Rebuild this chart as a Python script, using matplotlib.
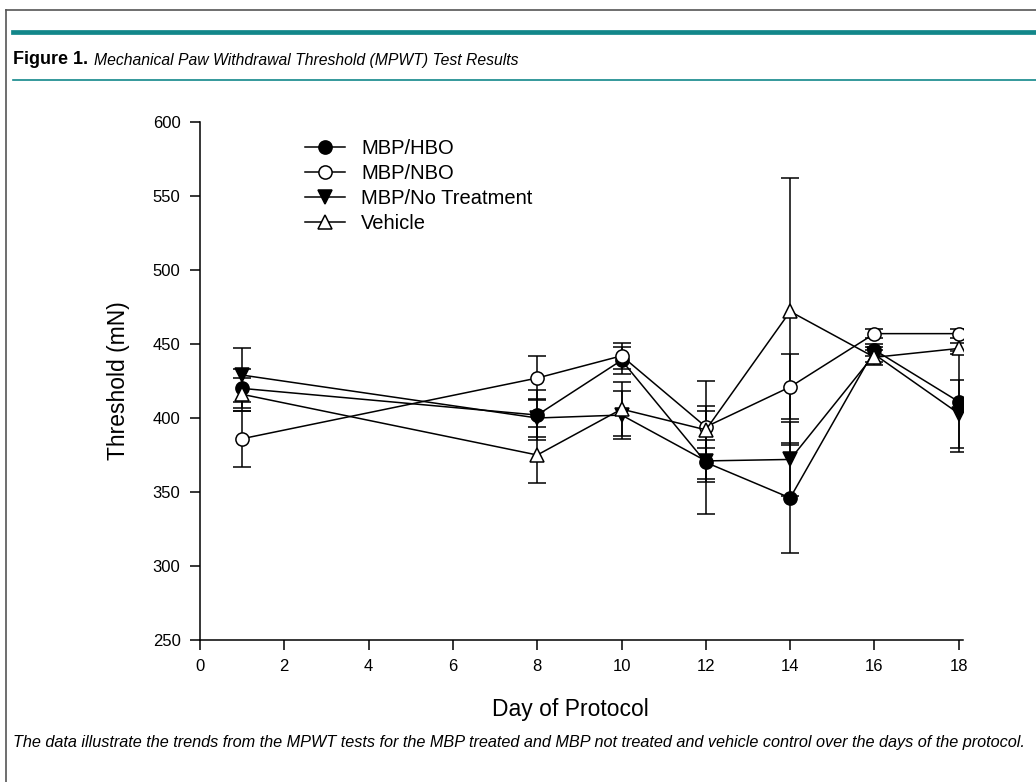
import matplotlib
matplotlib.use("Agg")
import matplotlib.pyplot as plt
from matplotlib.lines import Line2D

# values
days = [1, 8, 10, 12, 14, 16, 18]
hbo = [420, 402, 439, 370, 346, 446, 411]
hbo_err = [13, 17, 9, 35, 37, 4, 34]
nbo = [386, 427, 442, 394, 421, 457, 457]
nbo_err = [19, 15, 9, 14, 22, 3, 3]
notreat = [429, 400, 402, 371, 372, 443, 403]
notreat_err = [18, 13, 16, 14, 25, 5, 23]
vehicle = [416, 375, 406, 392, 472, 441, 447]
vehicle_err = [11, 19, 18, 33, 90, 5, 4]

x_ticks = [0, 2, 4, 6, 8, 10, 12, 14, 16, 18]
y_ticks = [250, 300, 350, 400, 450, 500, 550, 600]

teal = '#12878a'

plt.rcParams['font.family'] = ['Liberation Sans', 'DejaVu Sans']

fig = plt.figure(figsize=(10.36, 7.82), dpi=100)
W, H = 1036.0, 782.0

# frame and header rules
fig.add_artist(Line2D([6 / W, 6 / W], [0, 1 - 10 / H], color='#555555', lw=1.2))
fig.add_artist(Line2D([6 / W, 1], [1 - 10 / H, 1 - 10 / H], color='#555555', lw=1.2))
fig.add_artist(Line2D([13 / W, 1], [1 - 31.5 / H, 1 - 31.5 / H], color=teal, lw=3.4))
fig.add_artist(Line2D([13 / W, 1], [1 - 80 / H, 1 - 80 / H], color=teal, lw=1.2))

fig.text(13 / W, 1 - 60 / H, 'Figure 1.', fontsize=13, fontweight='bold',
         va='center', ha='left')
fig.text(94 / W, 1 - 60 / H, 'Mechanical Paw Withdrawal Threshold (MPWT) Test Results',
         fontsize=11.3, style='italic', va='center', ha='left')
fig.text(13 / W, 1 - 743 / H,
         'The data illustrate the trends from the MPWT tests for the MBP treated and MBP '
         'not treated and vehicle control over the days of the protocol.',
         fontsize=11.7, style='italic', va='center', ha='left')

ax = fig.add_axes([200 / W, 1 - 640 / H, 763 / W, 518 / H])

series = [
    (hbo, hbo_err, 'o', 'black', 'MBP/HBO'),
    (nbo, nbo_err, 'o', 'white', 'MBP/NBO'),
    (notreat, notreat_err, 'v', 'black', 'MBP/No Treatment'),
    (vehicle, vehicle_err, '^', 'white', 'Vehicle'),
]
handles = []
for vals, errs, mk, fc, lab in series:
    ax.errorbar(days, vals, yerr=errs, marker=mk, markersize=9.5, markerfacecolor=fc,
                markeredgecolor='black', markeredgewidth=1.1, color='black', lw=1.1,
                elinewidth=1.1, capsize=6.5, capthick=1.1)
    handles.append(Line2D([], [], marker=mk, markersize=9.5, markerfacecolor=fc,
                          markeredgecolor='black', markeredgewidth=1.1, color='black',
                          lw=1.1, label=lab))

ax.set_xlim(0, 18.1)
ax.set_ylim(250, 600)
ax.set_xticks(x_ticks)
ax.set_yticks(y_ticks)
ax.spines['top'].set_visible(False)
ax.spines['right'].set_visible(False)
ax.spines['left'].set_linewidth(1.1)
ax.spines['bottom'].set_linewidth(1.1)
ax.tick_params(direction='out', length=7, width=1.1, labelsize=12, pad=7)
ax.set_xlabel('Day of Protocol', fontsize=16.5)
ax.set_ylabel('Threshold (mN)', fontsize=16.5)
ax.xaxis.set_label_coords(0.486, -0.112)
ax.yaxis.set_label_coords(-0.092, 0.5)

fig.legend(handles=handles, loc='upper left', bbox_to_anchor=(305 / W, 1 - 139 / H),
           frameon=False, fontsize=14.5, handlelength=2.0, labelspacing=0.3,
           handletextpad=0.8, borderpad=0, borderaxespad=0)

fig.savefig('out.png', dpi=100)
